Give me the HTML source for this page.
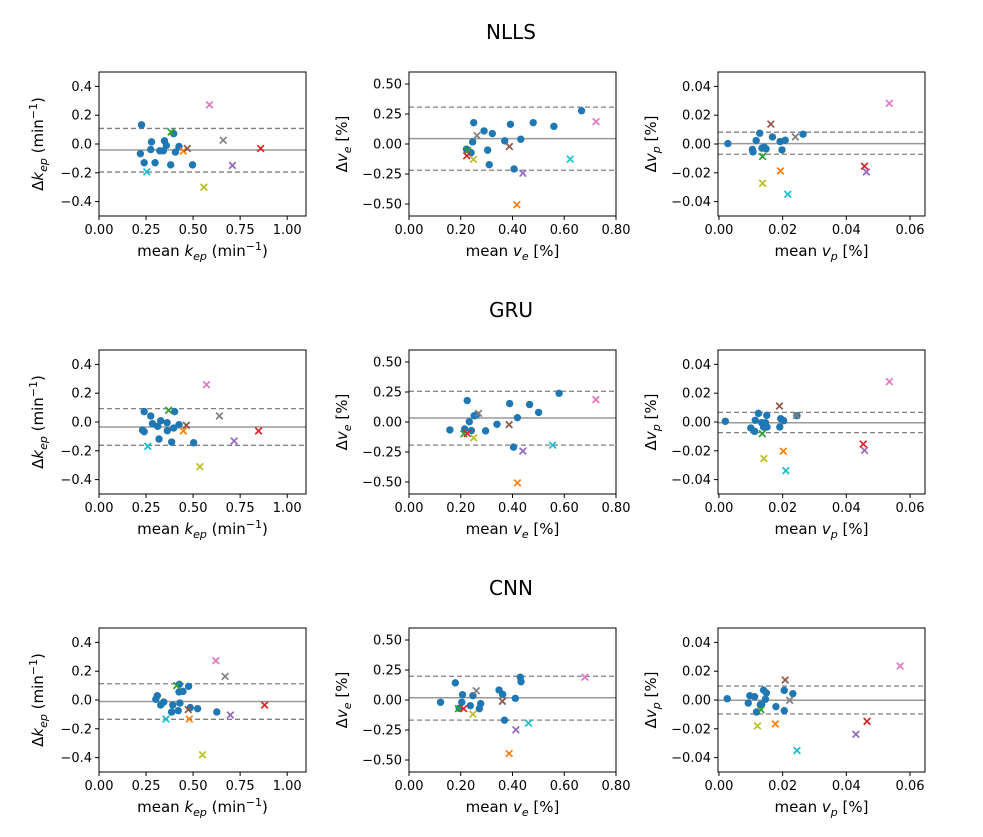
<!DOCTYPE html>
<html><head><meta charset="utf-8"><style>
body{margin:0;background:#fff;}
svg{display:block;font-family:"DejaVu Sans","Liberation Sans",sans-serif;}
</style></head><body>
<svg id="fig" width="983" height="837"></svg>
<script>
// ---- data (per panel) ----
const rowTitles = ["NLLS","GRU","CNN"];
const crossColors = ["#ff7f0e","#2ca02c","#d62728","#9467bd","#8c564b","#e377c2","#7f7f7f","#bcbd22","#17becf"];

const p1DotX=[0.226,0.279,0.275,0.22,0.24,0.298,0.348,0.358,0.323,0.342,0.397,0.425,0.406,0.381,0.497];
const p1DotY=[0.133,0.015,-0.038,-0.067,-0.13,-0.13,0.022,-0.01,-0.047,-0.047,0.072,-0.017,-0.056,-0.145,-0.145];
const p1CrossX=[0.448,0.383,0.859,0.709,0.469,0.587,0.66,0.557,0.254];
const p1CrossY=[-0.049,0.083,-0.031,-0.149,-0.031,0.272,0.026,-0.3,-0.193];
const p1Lines=[0.108,-0.042,-0.195];

const p2DotX=[0.25,0.29,0.322,0.246,0.222,0.24,0.304,0.31,0.37,0.392,0.432,0.406,0.48,0.56,0.667];
const p2DotY=[0.178,0.109,0.087,0.018,-0.043,-0.073,-0.051,-0.172,0.026,0.164,0.04,-0.208,0.178,0.147,0.277];
const p2CrossX=[0.417,0.227,0.223,0.44,0.388,0.723,0.263,0.249,0.623];
const p2CrossY=[-0.506,-0.056,-0.098,-0.244,-0.021,0.186,0.07,-0.128,-0.126];
const p2Lines=[0.307,0.045,-0.219];

const p3DotX=[0.0028,0.0105,0.0107,0.0117,0.0128,0.0135,0.0142,0.0148,0.0168,0.0192,0.0198,0.0208,0.0264];
const p3DotY=[0.0003,-0.0038,-0.0055,0.0024,0.0075,-0.0029,-0.0022,-0.0034,0.0049,0.0017,-0.0041,0.0026,0.0068];
const p3CrossX=[0.0193,0.0137,0.0457,0.0463,0.0163,0.0535,0.024,0.0137,0.0216];
const p3CrossY=[-0.0187,-0.0087,-0.0154,-0.0194,0.0138,0.0282,0.0049,-0.0273,-0.0349];
const p3Lines=[0.0082,0.0003,-0.0071];

const p4DotX=[0.24,0.275,0.284,0.312,0.328,0.362,0.363,0.397,0.402,0.425,0.231,0.24,0.319,0.386,0.503];
const p4DotY=[0.072,0.042,-0.012,-0.03,0.009,-0.005,-0.06,-0.042,0.072,-0.019,-0.056,-0.067,-0.118,-0.139,-0.144];
const p4CrossX=[0.448,0.37,0.848,0.718,0.464,0.571,0.64,0.536,0.259];
const p4CrossY=[-0.062,0.081,-0.062,-0.132,-0.023,0.259,0.042,-0.31,-0.169];
const p4Lines=[0.093,-0.035,-0.162];

const p5DotX=[0.158,0.225,0.233,0.215,0.241,0.252,0.261,0.296,0.34,0.389,0.419,0.404,0.466,0.501,0.58];
const p5DotY=[-0.066,0.179,0.003,-0.058,-0.071,0.052,0.06,-0.074,-0.019,0.154,0.036,-0.209,0.146,0.08,0.239];
const p5CrossX=[0.419,0.212,0.225,0.44,0.387,0.722,0.269,0.25,0.555];
const p5CrossY=[-0.507,-0.099,-0.096,-0.242,-0.022,0.187,0.072,-0.132,-0.193];
const p5Lines=[0.256,0.033,-0.193];

const p6DotX=[0.002,0.01,0.0112,0.0114,0.0124,0.0134,0.014,0.0146,0.0151,0.015,0.0191,0.0194,0.0203,0.0245];
const p6DotY=[0.0005,-0.0042,-0.0065,0.0012,0.006,-0.0005,-0.0035,-0.0005,-0.0035,0.0046,-0.0035,0.0023,0.0009,0.0044];
const p6CrossX=[0.0202,0.0136,0.0453,0.0457,0.019,0.0535,0.0243,0.0141,0.021];
const p6CrossY=[-0.0203,-0.0081,-0.0153,-0.0197,0.0111,0.028,0.0046,-0.0254,-0.0338];
const p6Lines=[0.0067,-0.0005,-0.0074];

const p7DotX=[0.31,0.302,0.328,0.344,0.392,0.386,0.421,0.43,0.427,0.425,0.446,0.476,0.485,0.524,0.626];
const p7DotY=[0.03,0.005,-0.035,-0.014,-0.035,-0.083,-0.074,-0.021,0.109,0.056,0.06,0.095,-0.053,-0.06,-0.083];
const p7CrossX=[0.48,0.413,0.88,0.698,0.474,0.621,0.67,0.55,0.356];
const p7CrossY=[-0.132,0.1,-0.035,-0.104,-0.067,0.273,0.164,-0.38,-0.132];
const p7Lines=[0.113,-0.01,-0.134];

const p8DotX=[0.122,0.179,0.207,0.204,0.194,0.237,0.247,0.272,0.277,0.348,0.362,0.369,0.411,0.43,0.433];
const p8DotY=[-0.019,0.143,0.044,-0.019,-0.069,-0.047,0.036,-0.072,-0.03,0.083,0.047,-0.168,0.014,0.19,0.152];
const p8CrossX=[0.387,0.191,0.211,0.413,0.361,0.68,0.26,0.247,0.462];
const p8CrossY=[-0.446,-0.072,-0.072,-0.248,-0.011,0.19,0.077,-0.118,-0.193];
const p8Lines=[0.198,0.019,-0.168];

const p9DotX=[0.0026,0.0092,0.0097,0.0112,0.0118,0.013,0.014,0.0149,0.0146,0.0134,0.0179,0.0205,0.0205,0.0232];
const p9DotY=[0.0009,-0.0021,0.003,0.0023,-0.0083,-0.0032,0.0069,0.0049,0.0005,-0.003,-0.0046,0.0067,-0.0074,0.0044];
const p9CrossX=[0.0177,0.0132,0.0465,0.043,0.0208,0.0569,0.0222,0.0121,0.0245];
const p9CrossY=[-0.0166,-0.0067,-0.0148,-0.0238,0.0139,0.0236,-0.0002,-0.018,-0.0351];
const p9Lines=[0.0097,-0.0002,-0.0097];

const kepXTicks=[0,0.25,0.5,0.75,1.0], kepXLabels=["0.00","0.25","0.50","0.75","1.00"];
const kepYTicks=[-0.4,-0.2,0,0.2,0.4], kepYLabels=["−0.4","−0.2","0.0","0.2","0.4"];
const veXTicks=[0,0.2,0.4,0.6,0.8], veXLabels=["0.00","0.20","0.40","0.60","0.80"];
const veYTicks=[-0.5,-0.25,0,0.25,0.5], veYLabels=["−0.50","−0.25","0.00","0.25","0.50"];
const vpXTicks=[0,0.02,0.04,0.06], vpXLabels=["0.00","0.02","0.04","0.06"];
const vpYTicks=[-0.04,-0.02,0,0.02,0.04], vpYLabels=["−0.04","−0.02","0.00","0.02","0.04"];

const NS="http://www.w3.org/2000/svg";
const svg=document.getElementById('fig');
function mk(tag,attrs,parent){const e=document.createElementNS(NS,tag);for(const k in attrs)e.setAttribute(k,attrs[k]);(parent||svg).appendChild(e);return e;}

const colX=[99,409,718], rowY=[72,350,628], W=207, H=144;
const kinds=[
 {xlim:[0,1.1],ylim:[-0.5,0.5],xt:kepXTicks,xl:kepXLabels,yt:kepYTicks,yl:kepYLabels,name:"kep"},
 {xlim:[0,0.8],ylim:[-0.6,0.6],xt:veXTicks,xl:veXLabels,yt:veYTicks,yl:veYLabels,name:"ve"},
 {xlim:[-0.0003,0.0647],ylim:[-0.05,0.05],xt:vpXTicks,xl:vpXLabels,yt:vpYTicks,yl:vpYLabels,name:"vp"}];
const panels=[
 [p1DotX,p1DotY,p1CrossX,p1CrossY,p1Lines],[p2DotX,p2DotY,p2CrossX,p2CrossY,p2Lines],[p3DotX,p3DotY,p3CrossX,p3CrossY,p3Lines],
 [p4DotX,p4DotY,p4CrossX,p4CrossY,p4Lines],[p5DotX,p5DotY,p5CrossX,p5CrossY,p5Lines],[p6DotX,p6DotY,p6CrossX,p6CrossY,p6Lines],
 [p7DotX,p7DotY,p7CrossX,p7CrossY,p7Lines],[p8DotX,p8DotY,p8CrossX,p8CrossY,p8Lines],[p9DotX,p9DotY,p9CrossX,p9CrossY,p9Lines]];

function labelText(parent,x,y,kind,isX,rot){
  const t=mk('text',{x:x,y:y,'font-size':15,'text-anchor':'middle',fill:'#000'},parent);
  if(rot) t.setAttribute('transform','rotate(-90 '+x+' '+y+')');
  const sym={kep:['k','ep'],ve:['v','e'],vp:['v','p']}[kind];
  const pre=isX?'mean ':'Δ';
  const a=mk('tspan',{},t);a.textContent=pre;
  const b=mk('tspan',{'font-style':'italic'},t);b.textContent=sym[0];
  const c=mk('tspan',{'font-style':'italic','font-size':11,dy:4},t);c.textContent=sym[1];
  if(kind==='kep'){
    const d=mk('tspan',{dy:-4},t);d.textContent=' (min';
    const e=mk('tspan',{'font-size':11,dy:-6},t);e.textContent='−1';
    const f=mk('tspan',{dy:6},t);f.textContent=')';
  } else {const d=mk('tspan',{dy:-4},t);d.textContent=' [%]';}
  return t;
}

rowTitles.forEach((title,r)=>{
  const tt=mk('text',{x:511,y:rowY[r]-33,'font-size':20,'text-anchor':'middle',fill:'#000'});
  tt.textContent=title;
  
  
  kinds.forEach((k,c)=>{
    const d=panels[r*3+c];
    const x0=colX[c], y0=rowY[r];
    const sx=v=>x0+(v-k.xlim[0])/(k.xlim[1]-k.xlim[0])*W;
    const sy=v=>y0+H-(v-k.ylim[0])/(k.ylim[1]-k.ylim[0])*H;
    const g=mk('g',{});
    
    
    // limit lines
    d[4].forEach((v,i)=>{
      const ln=mk('line',{x1:x0,x2:x0+W,y1:sy(v),y2:sy(v),stroke:i===1?'#9a9a9a':'#808080','stroke-width':i===1?1.5:1.3,'stroke-dasharray':i===1?'none':'5,3'},g);
      
      
    });
    d[0].forEach((xv,i)=>{
      const ci=mk('circle',{cx:sx(xv),cy:sy(d[1][i]),r:3.7,fill:'#1f77b4'},g);
      
      
    });
    d[2].forEach((xv,i)=>{
      const cx=sx(xv), cy=sy(d[3][i]), s=3.3;
      const p=mk('path',{d:`M${cx-s},${cy-s}L${cx+s},${cy+s}M${cx-s},${cy+s}L${cx+s},${cy-s}`,stroke:crossColors[i],'stroke-width':1.7,fill:'none'},g);
      
      
    });
    const fr=mk('rect',{x:x0,y:y0,width:W,height:H,fill:'none',stroke:'#000','stroke-width':1},g);
    
    
    k.xt.forEach((v,i)=>{
      const X=sx(v);
      mk('line',{x1:X,x2:X,y1:y0+H,y2:y0+H+4,stroke:'#000'},g);
      const t=mk('text',{x:X,y:y0+H+18,'font-size':13,'text-anchor':'middle'},g);
      t.textContent=k.xl[i];
      
      
    });
    k.yt.forEach((v,i)=>{
      const Y=sy(v);
      mk('line',{x1:x0-4,x2:x0,y1:Y,y2:Y,stroke:'#000'},g);
      const t=mk('text',{x:x0-7,y:Y+4.5,'font-size':13,'text-anchor':'end'},g);
      t.textContent=k.yl[i];
      
      
    });
    const xlab=labelText(g,x0+W/2,y0+H+40,k.name,true,false);
    
    
    const ylx=x0-(c===0?56:(c===1?62:62));
    const ylab=labelText(g,ylx,y0+H/2,k.name,false,true);
    
    
  });
});
</script>
</body></html>
